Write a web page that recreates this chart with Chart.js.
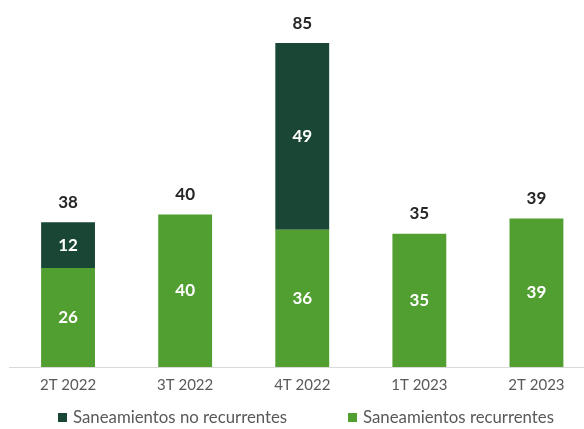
<!DOCTYPE html>
<html>
<head>
<meta charset="utf-8">
<script src="https://cdn.jsdelivr.net/npm/chart.js@4/dist/chart.umd.min.js"></script>
<style>
  html, body { margin: 0; padding: 0; background: #fff; overflow: hidden; }
  #wrap { width: 600px; height: 429px; }
</style>
</head>
<body>
<div id="wrap"><canvas id="chart" width="600" height="429"></canvas></div>
<script>
  // Chart data
  const periods = ["2T 2022", "3T 2022", "4T 2022", "1T 2023", "2T 2023"];
  const recurrentes = [26, 40, 36, 35, 39];
  const noRecurrentes = [12, 0, 49, 0, 0];
  const totals = [38, 40, 85, 35, 39];

  const FONT = "Lato, 'Open Sans', sans-serif";
  const DARK = "#1a4735";
  const LIGHT = "#519e31";

  // Draw values inside segments and totals above the bars
  const valueLabels = {
    id: "valueLabels",
    afterDatasetsDraw: function (chart) {
      const ctx = chart.ctx;
      ctx.save();
      ctx.textAlign = "center";
      ctx.textBaseline = "middle";
      ctx.font = "bold 17px " + FONT;
      chart.data.datasets.forEach(function (ds, di) {
        const meta = chart.getDatasetMeta(di);
        meta.data.forEach(function (bar, i) {
          const v = ds.data[i];
          if (!v) return;
          ctx.fillStyle = "#ffffff";
          ctx.fillText(v, bar.x, (bar.y + bar.base) / 2);
        });
      });
      const top = chart.getDatasetMeta(0);
      const yScale = chart.scales.y;
      ctx.fillStyle = "#262626";
      top.data.forEach(function (bar, i) {
        ctx.fillText(totals[i], bar.x, yScale.getPixelForValue(totals[i]) - 20);
      });
      ctx.restore();
    },
  };

  // Legend drawn by hand so the spacing matches the original
  const bottomLegend = {
    id: "bottomLegend",
    afterDraw: function (chart) {
      const ctx = chart.ctx;
      const items = [
        { text: chart.data.datasets[1].label, color: DARK, x: 58 },
        { text: chart.data.datasets[0].label, color: LIGHT, x: 348 },
      ];
      ctx.save();
      ctx.font = "16.8px " + FONT;
      ctx.textBaseline = "middle";
      ctx.textAlign = "left";
      items.forEach(function (it) {
        ctx.fillStyle = it.color;
        ctx.fillRect(it.x, 413, 9, 9);
        ctx.fillStyle = "#595959";
        ctx.fillText(it.text, it.x + 15, 418);
      });
      ctx.restore();
    },
  };

  new Chart(document.getElementById("chart").getContext("2d"), {
    type: "bar",
    data: {
      labels: periods,
      datasets: [
        {
          label: "Saneamientos recurrentes",
          data: recurrentes,
          backgroundColor: LIGHT,
          borderWidth: 0,
          barPercentage: 0.46,
          categoryPercentage: 1,
        },
        {
          label: "Saneamientos no recurrentes",
          data: noRecurrentes,
          backgroundColor: DARK,
          borderWidth: 0,
          barPercentage: 0.46,
          categoryPercentage: 1,
        },
      ],
    },
    options: {
      responsive: false,
      animation: false,
      layout: { padding: { left: 9.5, right: 5, top: 5, bottom: 34 } },
      scales: {
        x: {
          stacked: true,
          grid: { display: false },
          border: { display: true, color: "#d9d9d9", width: 1 },
          ticks: { color: "#595959", font: { family: FONT, size: 15 }, padding: 1 },
        },
        y: {
          stacked: true,
          display: false,
          min: 0,
          max: 95,
        },
      },
      plugins: {
        legend: { display: false },
        tooltip: { enabled: false },
      },
    },
    plugins: [valueLabels, bottomLegend],
  });
</script>
</body>
</html>
